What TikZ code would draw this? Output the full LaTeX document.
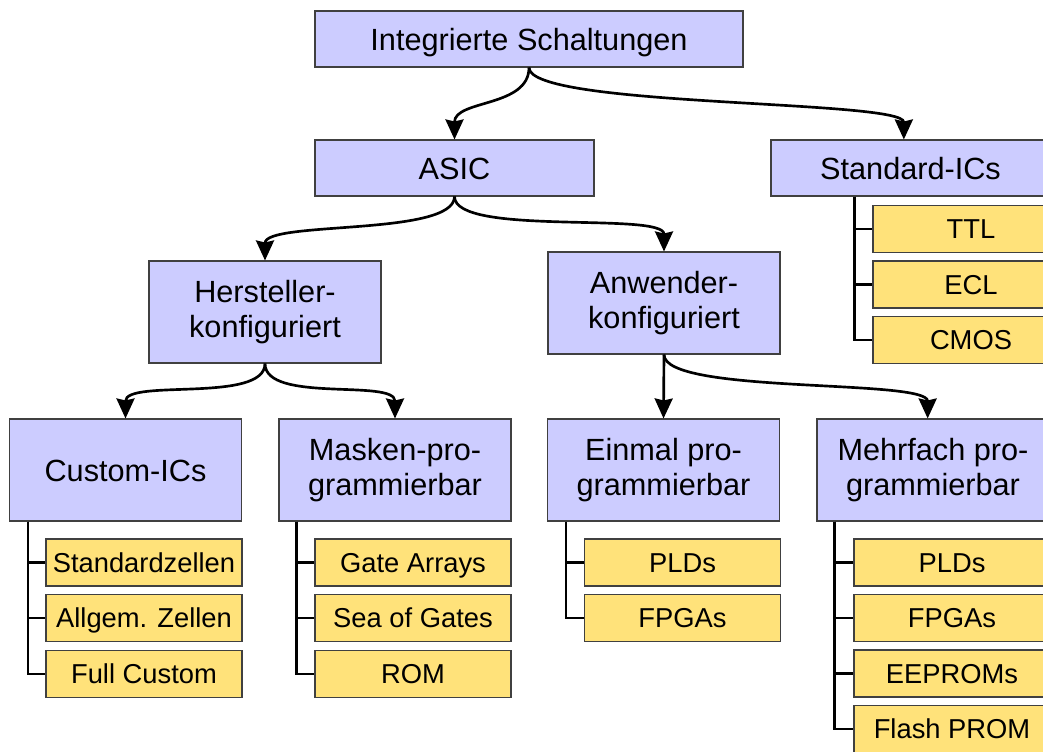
\documentclass[tikz,border=0pt]{standalone}
\usepackage{fontspec}
\setmainfont{Liberation Sans}
\usepackage{xcolor}
\usetikzlibrary{arrows.meta}
\definecolor{boxblue}{RGB}{204,204,255}
\definecolor{boxyellow}{RGB}{255,226,122}

\tikzset{
  blue box/.style={draw=black!75, line width=0.8pt, fill=boxblue, inner sep=0pt,
                   align=center, font=\fontsize{23}{26}\selectfont},
  one line/.style={text height=16.5pt, text depth=0pt},
  yellow box/.style={draw=black!75, line width=0.8pt, fill=boxyellow, inner sep=0pt,
                     minimum width=147pt, minimum height=35.25pt,
                     text height=14.7pt, text depth=0pt,
                     font=\fontsize{20.5}{24}\selectfont},
  s curve/.style={to path={.. controls +(0,40) and +(0,-40) .. (\tikztotarget)}},
  tree line/.style={draw=black, line width=2.1pt}
}

\begin{document}
\begin{tikzpicture}[x=0.75pt, y=-0.75pt]
\useasboundingbox (0,0) rectangle (1043,751);
\clip (0,0) rectangle (1043,751);

\begin{scope}[every node/.style={blue box, one line, minimum height=42pt}]
    \node[minimum width=321pt] (ic) at (529,39) {Integrierte Schaltungen};
    \node[minimum width=209.25pt] (asic) at (454.5,168) {ASIC};
    \node[minimum width=209.25pt] (std) at (910.5,168) {Standard-ICs};
\end{scope}

\begin{scope}[every node/.style={blue box, minimum width=174pt, minimum height=76.5pt}]
    \node (hk) at (265,312) {Hersteller-\\konfiguriert};
    \node (ak) at (664,303) {Anwender-\\konfiguriert};
    \node[one line] (cic) at (125.5,470) {Custom-ICs};
    \node (mp) at (395,470) {Masken-pro-\\grammierbar};
    \node (ep) at (663.5,470) {Einmal pro-\\grammierbar};
    \node (mfp) at (933,470) {Mehrfach pro-\\grammierbar};
\end{scope}

\begin{scope}[every node/.style={yellow box}]
    \node (ttl) at (971,229) {TTL};
    \node (ecl) at (971,284.5) {ECL};
    \node (cmos) at (971,340) {CMOS};

    \node (szl) at (144,562.5) {Standardzellen};
    \node (azl) at (144,618) {Allgem. Zellen};
    \node (fc) at (144,674) {Full Custom};

    \node (ga) at (413,562.5) {Gate Arrays};
    \node (sog) at (413,618) {Sea of Gates};
    \node (rom) at (413,674) {ROM};

    \node (epld) at (682.5,562.5) {PLDs};
    \node (efpga) at (682.5,618) {FPGAs};

    \node (mpld) at (952,562.5) {PLDs};
    \node (mfpga) at (952,618) {FPGAs};
    \node (eep) at (952,673.5) {EEPROMs};
    \node (fla) at (952,729) {Flash PROM};
\end{scope}

\begin{scope}[>={Stealth[length=15pt, width=13.5pt, inset=1.5pt]},
              every edge/.style={draw=black, line width=2pt}]
    \path [->] (ic.south) edge [s curve] (asic.north);
    \path [->] (ic.south) edge [s curve] ([xshift=-5pt]std.north);
    \path [->] (asic.south) edge [s curve] (hk.north);
    \path [->] (asic.south) edge [s curve] (ak.north);
    \path [->] (hk.south) edge [s curve] (cic.north);
    \path [->] (hk.south) edge [s curve] (mp.north);
    \path [->] (ak.south) edge (ep.north);
    \path [->] (ak.south) edge [s curve] ([xshift=-4pt]mfp.north);
\end{scope}

\coordinate (stdv) at ([xshift=63pt]std.south west);
\coordinate (cicv) at ([xshift=14.25pt]cic.south west);
\coordinate (mpv) at ([xshift=13.5pt]mp.south west);
\coordinate (epv) at ([xshift=14.25pt]ep.south west);
\coordinate (mfpv) at ([xshift=13.5pt]mfp.south west);

\begin{scope}[tree line]
    \draw (stdv) |- (ttl.west);
    \draw (stdv) |- (ecl.west);
    \draw (stdv) |- (cmos.west);
    \draw (cicv) |- (szl.west);
    \draw (cicv) |- (azl.west);
    \draw (cicv) |- (fc.west);
    \draw (mpv) |- (ga.west);
    \draw (mpv) |- (sog.west);
    \draw (mpv) |- (rom.west);
    \draw (epv) |- (epld.west);
    \draw (epv) |- (efpga.west);
    \draw (mfpv) |- (mpld.west);
    \draw (mfpv) |- (mfpga.west);
    \draw (mfpv) |- (eep.west);
    \draw (mfpv) |- (fla.west);
\end{scope}

\end{tikzpicture}
\end{document}
